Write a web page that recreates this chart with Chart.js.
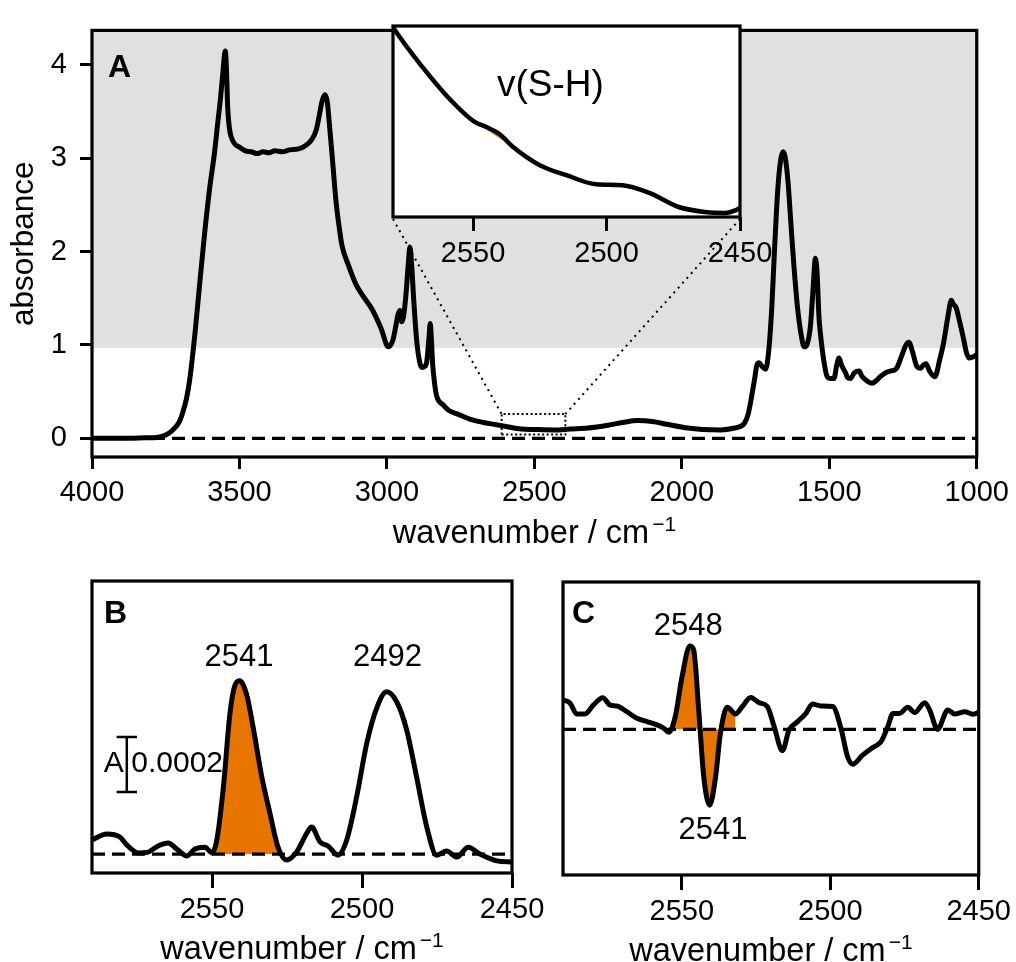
<!DOCTYPE html>
<html>
<head>
<meta charset="utf-8">
<script src="https://cdn.jsdelivr.net/npm/chart.js@4.4.1/dist/chart.umd.min.js"></script>
<style>
  html, body { margin: 0; padding: 0; background: #fff; }
  #wrap { position: relative; width: 1016px; height: 962px; }
  #wrap canvas { position: absolute; left: 0; top: 0; }
</style>
</head>
<body>
<div id="wrap">
  <canvas id="mainChart" width="1016" height="962" style="z-index:1"></canvas>
  <canvas id="insetChart" width="1016" height="962" style="z-index:2"></canvas>
  <canvas id="chartB" width="1016" height="962" style="z-index:3"></canvas>
  <canvas id="chartC" width="1016" height="962" style="z-index:4"></canvas>
</div>
<script>
// ---- panel A: full spectrum ----
const mainWavenumber = [
  4000, 3900, 3820, 3780, 3750, 3726, 3705, 3692, 3680, 3669,
  3650, 3635, 3618, 3601, 3585, 3574, 3565, 3557, 3551, 3548,
  3544, 3540, 3534, 3527, 3515, 3500, 3480, 3460, 3440, 3420,
  3400, 3380, 3355, 3330, 3300, 3274, 3255, 3240, 3228, 3220,
  3210, 3202, 3196, 3185, 3172, 3160, 3152, 3130, 3105, 3080,
  3050, 3020, 2995, 2980, 2970, 2962, 2956, 2950, 2944, 2936,
  2928, 2922, 2916, 2909, 2900, 2892, 2882, 2872, 2865, 2858,
  2853, 2849, 2845, 2838, 2831, 2810, 2791, 2760, 2713, 2655,
  2600, 2544, 2500, 2431, 2380, 2318, 2250, 2200, 2149, 2100,
  2050, 1980, 1930, 1868, 1820, 1800, 1788, 1775, 1765, 1754,
  1745, 1738, 1728, 1716, 1705, 1695, 1686, 1675, 1665, 1657,
  1650, 1640, 1631, 1620, 1608, 1596, 1585, 1575, 1564, 1555,
  1547, 1541, 1535, 1530, 1518, 1507, 1495, 1484, 1475, 1467,
  1458, 1446, 1438, 1429, 1415, 1399, 1390, 1382, 1370, 1355,
  1340, 1327, 1310, 1294, 1280, 1270, 1255, 1240, 1230, 1218,
  1203, 1190, 1180, 1172, 1160, 1142, 1125, 1112, 1098, 1086,
  1080, 1070, 1058, 1045, 1035, 1025, 1015, 1007, 1000
];
const mainAbsorbance = [
  0.00, 0.00, 0.005, 0.01, 0.035, 0.09, 0.17, 0.28, 0.42, 0.62,
  1.15, 1.65, 2.20, 2.68, 3.05, 3.37, 3.62, 3.89, 4.10, 4.15,
  3.95, 3.55, 3.32, 3.22, 3.15, 3.12, 3.08, 3.07, 3.05, 3.07,
  3.06, 3.08, 3.07, 3.09, 3.10, 3.14, 3.20, 3.30, 3.48, 3.61,
  3.68, 3.60, 3.40, 3.00, 2.52, 2.22, 2.06, 1.85, 1.65, 1.52,
  1.38, 1.18, 0.98, 1.05, 1.20, 1.33, 1.37, 1.25, 1.30, 1.52,
  1.85, 2.05, 1.85, 1.48, 1.08, 0.87, 0.76, 0.77, 0.82, 1.05,
  1.23, 1.05, 0.80, 0.58, 0.45, 0.36, 0.30, 0.26, 0.20, 0.16,
  0.13, 0.10, 0.095, 0.09, 0.10, 0.11, 0.14, 0.17, 0.19, 0.18,
  0.15, 0.11, 0.095, 0.09, 0.11, 0.13, 0.16, 0.26, 0.42, 0.62,
  0.79, 0.81, 0.77, 0.74, 0.95, 1.40, 2.00, 2.65, 2.98, 3.07,
  3.02, 2.75, 2.34, 1.85, 1.41, 1.12, 0.98, 1.01, 1.20, 1.60,
  1.93, 1.75, 1.30, 1.12, 0.82, 0.66, 0.64, 0.64, 0.78, 0.86,
  0.78, 0.71, 0.65, 0.64, 0.70, 0.72, 0.67, 0.64, 0.61, 0.59,
  0.62, 0.66, 0.70, 0.72, 0.73, 0.76, 0.88, 1.00, 1.03, 0.93,
  0.77, 0.75, 0.79, 0.80, 0.72, 0.66, 0.85, 1.03, 1.30, 1.48,
  1.44, 1.40, 1.25, 1.07, 0.92, 0.86, 0.87, 0.88, 0.90
];
const mainXTicks = [4000, 3500, 3000, 2500, 2000, 1500, 1000];
const mainYTicks = [0, 1, 2, 3, 4];
const shadedFrom = 0.97;               // grey band: absorbance above this
const zoomBoxX = [2611, 2395];         // marked region in panel A
const zoomBoxY = [0.04, 0.26];

// ---- inset: v(S-H) region ----
const insetWavenumber = [2580, 2579.3, 2569, 2559.5, 2549.4, 2545, 2540, 2535, 2525, 2515, 2504, 2494, 2484, 2473, 2463, 2455.6, 2451.5, 2450];
const insetAbsorbance = [0.1298, 0.1291, 0.1210, 0.1144, 0.1089, 0.1078, 0.1062, 0.1034, 0.0994, 0.0972, 0.0952, 0.0950, 0.0933, 0.0902, 0.0891, 0.0889, 0.0895, 0.0900];
const insetBand = [2549.4, 2535];

// ---- panel B ----
const bWavenumber = [
  2590, 2585.1, 2580.7, 2578.4, 2574.6, 2571.3, 2568.0, 2564.6, 2561.7, 2558.4,
  2555.7, 2552.3, 2550.0, 2548.4, 2546.2, 2544.0, 2542.3, 2540.7, 2538.4, 2536.3,
  2533.4, 2530.7, 2528.0, 2525.1, 2521.8, 2518.4, 2516.8, 2514.0, 2511.3, 2508.0,
  2505.1, 2501.8, 2498.4, 2495.1, 2491.8, 2488.4, 2485.1, 2481.8, 2478.4, 2475.1,
  2471.8, 2468.4, 2464.6, 2460.7, 2455.1, 2450.1
];
const bAbsorbance = [
  0.000051, 0.000073, 0.000062, 0.000033, 0.000004, 0.000007, 0.000029, 0.000040, 0.000018, -0.000007,
  0.000018, 0.000025, 0.000004, 0.000051, 0.000244, 0.000513, 0.000615, 0.000630, 0.000578, 0.000462,
  0.000280, 0.000149, 0.000025, -0.000022, 0.000007, 0.000076, 0.000098, 0.000044, 0.000029, -0.000004,
  0.000051, 0.000207, 0.000404, 0.000531, 0.000590, 0.000553, 0.000451, 0.000280, 0.000098, -0.000004,
  0.000011, -0.000011, 0.000025, 0.000000, -0.000025, -0.000029
];
const bBand = [2550.5, 2527.5];
const bScaleBar = { x: 2578.4, from: 0.000226, to: 0.000426, cap: 3.4 };

// ---- panel C ----
const cWavenumber = [
  2590, 2587.6, 2585.4, 2582.6, 2579.8, 2576.6, 2574.1, 2571.9, 2568.5, 2565.1,
  2561.7, 2558.3, 2556.1, 2554.4, 2552.2, 2549.9, 2547.3, 2546.0, 2544.3, 2542.6,
  2540.6, 2538.6, 2537.0, 2534.7, 2531.9, 2529.6, 2526.8, 2524.0, 2521.2, 2518.9,
  2516.1, 2513.9, 2511.0, 2508.2, 2506.0, 2503.2, 2499.2, 2496.4, 2494.2, 2492.5,
  2489.1, 2485.7, 2482.9, 2480.6, 2478.9, 2476.7, 2473.9, 2471.6, 2468.2, 2466.5,
  2463.9, 2460.4, 2458.1, 2454.7, 2451.9, 2449.7
];
const cAbsorbance = [
  0.000107, 0.000095, 0.000056, 0.000056, 0.000088, 0.000115, 0.000088, 0.000085, 0.000064, 0.000040,
  0.000028, 0.000016, 0.000004, -0.000011, 0.000046, 0.000192, 0.000303, 0.000289, 0.000070, -0.000172,
  -0.000276, -0.000172, -0.000015, 0.000080, 0.000056, 0.000083, 0.000116, 0.000097, 0.000083, 0.000010,
  -0.000078, -0.000003, 0.000028, 0.000058, 0.000092, 0.000085, 0.000083, 0.000004, -0.000099, -0.000127,
  -0.000094, -0.000066, -0.000045, 0.000010, 0.000058, 0.000058, 0.000080, 0.000061, 0.000097, 0.000070,
  0.000000, 0.000070, 0.000056, 0.000064, 0.000055, 0.000064
];
const cBand = [2554.5, 2531.5];
const zoomXTicks = [2550, 2500, 2450];

const FONT = '"Liberation Sans", Arial, sans-serif';
const ORANGE = '#e87500';
const TICK_SIZE = 29;
Chart.defaults.font.family = FONT;
Chart.defaults.color = '#000';

const pts = (xs, ys) => xs.map((x, i) => ({ x: x, y: ys[i] }));
const between = (arr, band) => arr.filter(p => p.x <= band[0] && p.x >= band[1]);

function drawXTitle(ctx, cx, baseline) {
  const main = 'wavenumber / cm', sup = '\u22121';
  ctx.font = '32.5px ' + FONT;
  const w1 = ctx.measureText(main).width;
  ctx.font = '21px ' + FONT;
  const w2 = ctx.measureText(sup).width;
  const x0 = cx - (w1 + w2 + 3) / 2;
  ctx.textAlign = 'left';
  ctx.textBaseline = 'alphabetic';
  ctx.font = '32.5px ' + FONT;
  ctx.fillText(main, x0, baseline);
  ctx.font = '21px ' + FONT;
  ctx.fillText(sup, x0 + w1 + 3, baseline - 12);
}

// frame, shading, panel letter, annotations
const decor = {
  id: 'decor',
  beforeDatasetsDraw(chart, args, o) {
    const { ctx, chartArea: a, scales } = chart;
    ctx.save();
    if (o.background) {
      ctx.fillStyle = o.background;
      ctx.fillRect(a.left, a.top, a.width, a.height);
    }
    if (o.band) {
      const y = scales.y.getPixelForValue(o.band);
      ctx.fillStyle = '#e0e0e0';
      ctx.fillRect(a.left, a.top, a.width, y - a.top);
    }
    ctx.restore();
  },
  afterDraw(chart, args, o) {
    const { ctx, chartArea: a, scales } = chart;
    ctx.save();
    ctx.fillStyle = '#000';
    ctx.strokeStyle = '#000';
    if (o.connect && insetChart) {
      const ia = insetChart.chartArea;
      ctx.lineWidth = 2;
      ctx.setLineDash([2, 4.5]);
      [[ia.left, zoomBoxX[0]], [ia.right, zoomBoxX[1]]].forEach(([px, wx]) => {
        ctx.beginPath();
        ctx.moveTo(px, ia.bottom + 2);
        ctx.lineTo(scales.x.getPixelForValue(wx), scales.y.getPixelForValue(zoomBoxY[1]));
        ctx.stroke();
      });
      ctx.setLineDash([]);
    }
    ctx.lineWidth = 3.2;
    ctx.strokeRect(a.left, a.top, a.width, a.height);
    if (o.letter) {
      ctx.font = 'bold 32px ' + FONT;
      ctx.textAlign = 'left';
      ctx.textBaseline = 'alphabetic';
      ctx.fillText(o.letter, a.left + o.letterDx, a.top + o.letterDy);
    }
    (o.notes || []).forEach(n => {
      ctx.font = n.size + 'px ' + FONT;
      ctx.textAlign = n.align || 'center';
      ctx.textBaseline = 'middle';
      ctx.fillText(n.text, scales.x.getPixelForValue(n.x), scales.y.getPixelForValue(n.y));
    });
    if (o.xTitle) drawXTitle(ctx, (a.left + a.right) / 2, a.bottom + 86);
    if (o.yTitle) {
      ctx.translate(33, (a.top + a.bottom) / 2);
      ctx.rotate(-Math.PI / 2);
      ctx.font = '31.5px ' + FONT;
      ctx.textAlign = 'center';
      ctx.textBaseline = 'alphabetic';
      ctx.fillText(o.yTitle, 0, 0);
    }
    ctx.restore();
  }
};

function xScale(min, max, ticks, tickLen, pad) {
  return {
    type: 'linear', reverse: true, min: min, max: max,
    afterBuildTicks: s => { s.ticks = ticks.map(v => ({ value: v })); },
    afterFit: s => { s.height = 60; },
    ticks: { font: { size: TICK_SIZE }, color: '#000', padding: pad, maxRotation: 0, autoSkip: false, callback: v => String(v) },
    grid: { drawOnChartArea: false, drawTicks: true, tickLength: tickLen, tickWidth: 3, tickColor: '#000', lineWidth: 3 },
    border: { display: false }
  };
}

function baseOptions(padding, scales, decorOpts) {
  return {
    responsive: false,
    animation: false,
    events: [],
    layout: { padding: padding, autoPadding: false },
    elements: { point: { radius: 0 }, line: { cubicInterpolationMode: 'monotone' } },
    plugins: { legend: { display: false }, tooltip: { enabled: false }, decor: decorOpts },
    scales: scales
  };
}

const curve = (data, w) => ({ data: data, borderColor: '#000', borderWidth: w, fill: false, order: 0 });
const dashed = (x0, x1) => ({
  data: [{ x: x0, y: 0 }, { x: x1, y: 0 }], borderColor: '#000', borderWidth: 3.2,
  borderDash: [13, 7], fill: false, order: 1
});

// inset (created first so panel A can connect to it)
let insetChart = null;
const insetPts = pts(insetWavenumber, insetAbsorbance);
const insetSeg = between(insetPts, insetBand);
insetChart = new Chart(document.getElementById('insetChart'), {
  type: 'line',
  data: {
    datasets: [
      curve(insetPts, 4.5),
      { data: insetSeg, borderWidth: 0, backgroundColor: ORANGE, fill: 2, order: 1 },
      { data: [insetSeg[0], insetSeg[insetSeg.length - 1]], borderWidth: 0, fill: false, order: 2, cubicInterpolationMode: 'default', tension: 0 }
    ]
  },
  options: baseOptions(
    { left: 393, top: 26, right: 1016 - 740, bottom: 962 - 217 - 60 },
    {
      x: xScale(2450, 2580, zoomXTicks, 14, 6),
      y: { type: 'linear', display: false, min: 0.088, max: 0.130 }
    },
    { background: '#fff', notes: [{ text: 'v(S-H)', x: 2521, y: 0.1168, size: 37 }] }
  ),
  plugins: [decor]
});

// panel A
new Chart(document.getElementById('mainChart'), {
  type: 'line',
  data: {
    datasets: [
      curve(pts(mainWavenumber, mainAbsorbance), 5),
      dashed(mainXTicks[0], mainXTicks[mainXTicks.length - 1]),
      {
        data: [
          { x: zoomBoxX[0], y: zoomBoxY[0] }, { x: zoomBoxX[1], y: zoomBoxY[0] },
          { x: zoomBoxX[1], y: zoomBoxY[1] }, { x: zoomBoxX[0], y: zoomBoxY[1] },
          { x: zoomBoxX[0], y: zoomBoxY[0] }
        ],
        borderColor: '#000', borderWidth: 2, borderDash: [2, 2.5], fill: false,
        cubicInterpolationMode: 'default', tension: 0, order: 2
      }
    ]
  },
  options: baseOptions(
    { left: 92 - 70, top: 13, right: 1016 - 980, bottom: 962 - 457 - 60 },
    {
      x: xScale(1000, 4000, mainXTicks, 12, 7),
      y: {
        type: 'linear', min: -0.2, max: 4.37,
        afterBuildTicks: s => { s.ticks = mainYTicks.map(v => ({ value: v })); },
        afterFit: s => { s.width = 70; },
        ticks: { font: { size: TICK_SIZE }, color: '#000', padding: 13, callback: v => String(v) },
        grid: { drawOnChartArea: false, drawTicks: true, tickLength: 12, tickWidth: 3, tickColor: '#000', lineWidth: 3 },
        border: { display: false }
      }
    },
    { band: shadedFrom, connect: true, letter: 'A', letterDx: 16, letterDy: 47, xTitle: true, yTitle: 'absorbance' }
  ),
  plugins: [decor]
});

// panel B
const bPts = pts(bWavenumber, bAbsorbance);
const bar = bScaleBar;
new Chart(document.getElementById('chartB'), {
  type: 'line',
  data: {
    datasets: [
      curve(bPts, 5),
      dashed(2590, 2450),
      { data: between(bPts, bBand), borderWidth: 0, backgroundColor: ORANGE, fill: { value: 0 }, order: 2 },
      {
        data: [
          { x: bar.x + bar.cap, y: bar.to }, { x: bar.x - bar.cap, y: bar.to }, { x: bar.x, y: null },
          { x: bar.x, y: bar.to }, { x: bar.x, y: bar.from }, { x: bar.x, y: null },
          { x: bar.x + bar.cap, y: bar.from }, { x: bar.x - bar.cap, y: bar.from }
        ],
        borderColor: '#000', borderWidth: 2.5, fill: false, cubicInterpolationMode: 'default', tension: 0, order: 0
      }
    ]
  },
  options: baseOptions(
    { left: 92, top: 581, right: 1016 - 512, bottom: 962 - 873 - 60 },
    {
      x: xScale(2450, 2590, zoomXTicks, 15, 5),
      y: { type: 'linear', display: false, min: -0.000069, max: 0.000993 }
    },
    {
      letter: 'B', letterDx: 12, letterDy: 42, xTitle: true,
      notes: [
        { text: '2541', x: 2541, y: 0.000715, size: 31 },
        { text: '2492', x: 2491.5, y: 0.000715, size: 31 },
        { text: 'A', x: 2579.4, y: 0.000327, size: 30, align: 'right' },
        { text: '0.0002', x: 2576.9, y: 0.000327, size: 30, align: 'left' }
      ]
    }
  ),
  plugins: [decor]
});

// panel C
const cPts = pts(cWavenumber, cAbsorbance);
new Chart(document.getElementById('chartC'), {
  type: 'line',
  data: {
    datasets: [
      curve(cPts, 5),
      dashed(2590, 2450),
      { data: between(cPts, cBand), borderWidth: 0, backgroundColor: ORANGE, fill: { value: 0 }, order: 2 }
    ]
  },
  options: baseOptions(
    { left: 563, top: 582, right: 1016 - 979, bottom: 962 - 875 - 60 },
    {
      x: xScale(2450, 2590, zoomXTicks, 15, 5),
      y: { type: 'linear', display: false, min: -0.00053, max: 0.000536 }
    },
    {
      letter: 'C', letterDx: 9, letterDy: 41, xTitle: true,
      notes: [
        { text: '2548', x: 2547.8, y: 0.000375, size: 31 },
        { text: '2541', x: 2539.5, y: -0.000367, size: 31 }
      ]
    }
  ),
  plugins: [decor]
});
</script>
</body>
</html>
